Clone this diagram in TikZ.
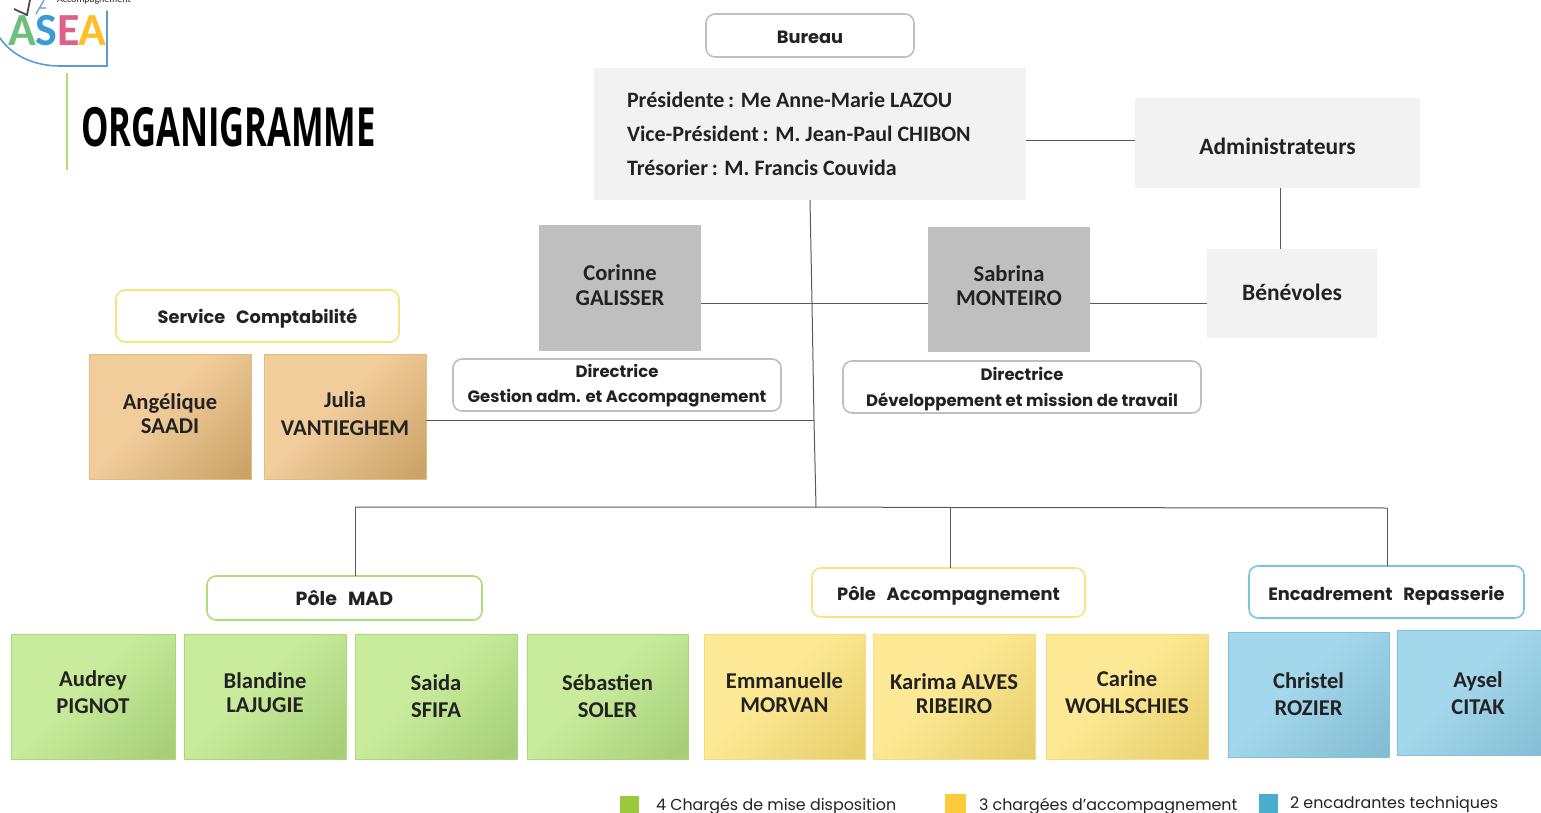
\documentclass[tikz,border=0pt]{standalone}
\usepackage{fontspec}
\setmainfont{Carlito}
\newfontfamily\hdfont{Poppins}
\newfontfamily\ttlfont[FakeStretch=0.64]{Open Sans}
\usetikzlibrary{calc}
\definecolor{ink}{HTML}{222222}
\definecolor{lineC}{HTML}{5A5A5A}
\definecolor{panel}{HTML}{F2F2F2}
\definecolor{gris}{HTML}{BFBFBF}
\definecolor{gA}{HTML}{C8EC9C}\definecolor{gB}{HTML}{A6CF78}\definecolor{gE}{HTML}{A8D878}
\definecolor{yA}{HTML}{FDE995}\definecolor{yB}{HTML}{E6CF6C}\definecolor{yE}{HTML}{F5DC80}
\definecolor{bA}{HTML}{A3D7EC}\definecolor{bB}{HTML}{84BDD4}\definecolor{bE}{HTML}{7CC4DC}
\definecolor{tA}{HTML}{F2CD9C}\definecolor{tB}{HTML}{CBA468}\definecolor{tE}{HTML}{E3BC80}
\definecolor{hdY}{HTML}{F3E57F}\definecolor{hdG}{HTML}{B0DC78}
\pgfdeclareverticalshading{gShade}{100bp}{color(0bp)=(gB); color(18bp)=(gB); color(56bp)=(gA); color(100bp)=(gA)}
\pgfdeclareverticalshading{yShade}{100bp}{color(0bp)=(yB); color(18bp)=(yB); color(56bp)=(yA); color(100bp)=(yA)}
\pgfdeclareverticalshading{bShade}{100bp}{color(0bp)=(bB); color(18bp)=(bB); color(56bp)=(bA); color(100bp)=(bA)}
\pgfdeclareverticalshading{tShade}{100bp}{color(0bp)=(tB); color(18bp)=(tB); color(56bp)=(tA); color(100bp)=(tA)}
\tikzset{
  base/.style={inner sep=0pt,outer sep=0pt,align=center,text=ink},
  namebox/.style={base,font=\fontsize{22.6}{26}\selectfont\bfseries},
  green/.style={namebox,draw=gE,line width=1pt,shading=gShade,shading angle=45},
  yell/.style={namebox,draw=yE,line width=1pt,shading=yShade,shading angle=45},
  blu/.style={namebox,draw=bE,line width=1pt,shading=bShade,shading angle=45},
  tan/.style={namebox,draw=tE,line width=1pt,shading=tShade,shading angle=45},
  pane/.style={base,fill=panel,font=\fontsize{23.5}{26}\selectfont\bfseries},
  grisbox/.style={namebox,fill=gris},
  hd/.style={base,rounded corners=9pt,fill=white,line width=1.6pt,font=\hdfont\fontsize{17.8}{26}\selectfont\bfseries},
  hdsmall/.style={hd,font=\hdfont\fontsize{16.5}{26}\selectfont\bfseries},
  hdy/.style={hd,draw=hdY},
  hdg/.style={hd,draw=hdG},
  hdb/.style={hd,draw=bE},
  conn/.style={draw=lineC,line width=1pt},
  legtxt/.style={base,anchor=west,font=\hdfont\fontsize{15.9}{18}\selectfont},
  logo/.style={base,font=\fontsize{46}{46}\selectfont\bfseries},
}
\newcommand{\bx}[7]{\node[#2,minimum width={(#5-#3)*1pt},minimum height={(#6-#4)*1pt}] (#1) at ({(#3+#5)/2},{(#4+#6)/2}) {#7};}
% #1 raise from the node centre, #2 extra line gap, #3 and #4 the two lines
\newcommand{\nm}[4]{\raisebox{\dimexpr#1pt-7pt}[0pt][0pt]{\begin{tabular}{@{}c@{}}#3\\[#2pt]#4\end{tabular}}}
\newcommand{\sg}[2]{\raisebox{\dimexpr#1pt-7pt}[0pt][0pt]{\begin{tabular}{@{}c@{}}#2\end{tabular}}}
\begin{document}
\begin{tikzpicture}[x=1pt,y=-1pt]
\useasboundingbox (0,0) rectangle (1541,813);
\clip (0,0) rectangle (1541,813);
% logo
\definecolor{logoL}{HTML}{5B9BD5}
\draw[draw=logoL,line width=1.6pt,line cap=round] (107,11) -- (107,66) -- (60,66) .. controls (35,66) and (12,56) .. (0,38);
\node[logo,text={rgb,255:red,109;green,192;blue,122}] (la) at (22,31) {A};
\node[logo,text={rgb,255:red,60;green,154;blue,214}] (ls) at (46,31) {S};
\node[logo,text={rgb,255:red,224;green,96;blue,138}] (le) at (69,31) {E};
\node[logo,text={rgb,255:red,255;green,190;blue,42}] (lb) at (92,31) {A};
\node[base,font=\fontsize{10}{10}\selectfont] (lt) at (94,0) {Accompagnement};
\draw[gray!60!black,line width=1.8pt] (14,9) -- (27,15) -- (30,0);
\draw[logoL,line width=1.2pt] (36,14) -- (44,0) (40,8) -- (46,8);
% title
\draw[draw=hdG,line width=2pt] (67,73) -- (67,170);
\node[base,anchor=west,text=black,font=\ttlfont\fontsize{54}{60}\selectfont\bfseries] (title) at (81,127) {ORGANIGRAMME};
% top
\bx{bureau}{hd,draw=gray!50}{706}{14}{914}{57}{\sg{0}{Bureau}}
\bx{info}{base,fill=panel}{594}{68}{1026}{200}{}
\node[base,anchor=west,align=left,font=\fontsize{22}{34.3}\selectfont\bfseries] (infotext) at (627,134) {Présidente\,: Me Anne-Marie LAZOU\\Vice-Président\,: M. Jean-Paul CHIBON\\Trésorier\,: M. Francis Couvida};
\bx{admin}{pane}{1135}{98}{1420}{188}{\sg{-6}{Administrateurs}}
\bx{benev}{pane}{1207}{249}{1377}{338}{\sg{-1}{Bénévoles}}
\bx{corinne}{grisbox}{539}{225}{701}{351}{\nm{2.5}{-1}{Corinne}{GALISSER}}
\bx{sabrina}{grisbox}{928}{227}{1090}{352}{\nm{3.5}{-2}{Sabrina}{MONTEIRO}}
\bx{dirA}{hdsmall,draw=gray!50}{453}{359}{781}{411}{\nm{3}{-1}{Directrice}{Gestion adm. et Accompagnement}}
\bx{dirB}{hdsmall,draw=gray!50}{843}{361}{1201}{413}{\nm{1}{0}{Directrice}{Développement et mission de travail}}
% compta
\bx{compta}{hdy}{116}{290}{399}{342}{\sg{0}{Service\hspace{7pt} Comptabilité}}
\bx{angel}{tan}{89}{354}{251}{479}{\nm{2.5}{-2}{Angélique}{SAADI}}
\bx{julia}{tan}{264}{354}{426}{479}{\nm{2.5}{2}{Julia}{VANTIEGHEM}}
% headers
\bx{mad}{hdg}{207}{576}{482}{620}{\sg{0}{\fontsize{19}{26}\selectfont Pôle\hspace{7pt} MAD}}
\bx{acc}{hdy}{812}{568}{1085}{617}{\sg{0}{Pôle\hspace{7pt} Accompagnement}}
\bx{rep}{hdb}{1249}{566}{1524}{618}{\sg{-1}{Encadrement\hspace{7pt} Repasserie}}
% people
\bx{audrey}{green}{11}{634}{175}{759}{\nm{4}{1}{Audrey}{PIGNOT}}
\bx{blandine}{green}{184}{634}{346}{759}{\nm{3.5}{-2}{Blandine}{LAJUGIE}}
\bx{saida}{green}{355}{634}{517}{759}{\nm{0}{1}{Saida}{SFIFA}}
\bx{seb}{green}{527}{634}{688}{759}{\nm{0}{1}{Sébastien}{SOLER}}
\bx{emma}{yell}{704}{634}{865}{759}{\nm{3.5}{-2}{Emmanuelle}{MORVAN}}
\bx{karima}{yell}{873}{634}{1035}{759}{\nm{2.5}{-2}{Karima ALVES}{RIBEIRO}}
\bx{carine}{yell}{1046}{634}{1208}{759}{\nm{4}{1}{Carine}{WOHLSCHIES}}
\bx{christel}{blu}{1228}{632}{1389}{757}{\nm{0}{1}{Christel}{ROZIER}}
\bx{aysel}{blu}{1397}{630}{1559}{755}{\nm{-1}{1}{Aysel}{CITAK}}
% hubs
\coordinate (h1) at (812,303);
\coordinate (h2) at (814,420);
\coordinate (h3) at (816,507);
\coordinate (bl) at (355,507);
\coordinate (bm) at (950,507.5);
\coordinate (br) at (1387,508);
% connectors
\draw[conn] (info.south -| 810,200) -- (h1) -- (h2) -- (h3);
\draw[conn] (corinne.east |- h1) -- (sabrina.west |- h1);
\draw[conn] (sabrina.east |- h1) -- (benev.west |- h1);
\draw[conn] (info.east |- 0,141) -- (admin.west |- 0,141);
\draw[conn] (admin.south -| 1280,0) -- (benev.north -| 1280,0);
\draw[conn] (julia.east |- h2) -- (h2);
\draw[conn] (bl) -- (h3) -- (bm) -- (br);
\draw[conn] (bl) -- (mad.north -| bl);
\draw[conn] (bm) -- (acc.north -| bm);
\draw[conn] (br) -- (rep.north -| br);
% legend
\bx{lg}{base,fill={rgb,255:red,155;green,203;blue,60}}{620}{796}{639}{813}{}
\node[legtxt] (lgt) at (656,806) {4 Chargés de mise disposition};
\bx{ly}{base,fill={rgb,255:red,255;green,201;blue,60}}{945}{794}{966}{813}{}
\node[legtxt] (lyt) at (979,806) {3 chargées d’accompagnement};
\bx{lb2}{base,fill={rgb,255:red,75;green,172;blue,205}}{1259}{794}{1278}{813}{}
\node[legtxt] (lbt) at (1290,805) {2 encadrantes techniques};
\end{tikzpicture}
\end{document}
